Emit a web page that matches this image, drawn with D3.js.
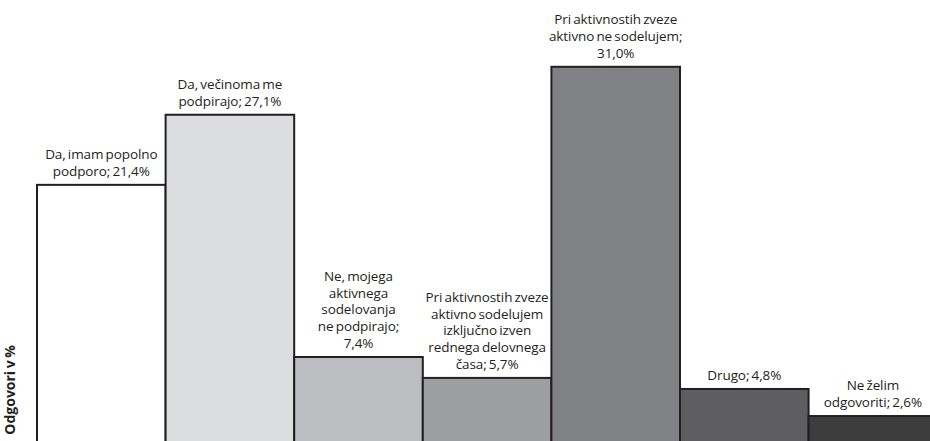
<!DOCTYPE html>
<html>
<head>
<meta charset="utf-8">
<script src="https://cdn.jsdelivr.net/npm/d3@7"></script>
<style>
  body, html { margin: 0; padding: 0; background: #fff; }
  svg { display: block; }
  .lbl { font-family: "Open Sans", sans-serif; font-size: 13.5px; fill: #231f20; text-anchor: middle; word-spacing: -1.2px; letter-spacing: -0.1px; }
  .ytitle { font-family: "Open Sans", sans-serif; font-size: 14px; font-weight: bold; fill: #231f20; word-spacing: -1px; }
</style>
</head>
<body>
<div id="chart"></div>
<script>
  // answers and shares (%)
  var categories = [
    "Da, imam popolno podporo",
    "Da, večinoma me podpirajo",
    "Ne, mojega aktivnega sodelovanja ne podpirajo",
    "Pri aktivnostih zveze aktivno sodelujem izključno izven rednega delovnega časa",
    "Pri aktivnostih zveze aktivno ne sodelujem",
    "Drugo",
    "Ne želim odgovoriti"
  ];
  var values = [21.4, 27.1, 7.4, 5.7, 31.0, 4.8, 2.6];
  var valueLabels = ["21,4%", "27,1%", "7,4%", "5,7%", "31,0%", "4,8%", "2,6%"];
  // how each label wraps in the original
  var labelLines = [
    ["Da, imam popolno", "podporo; 21,4%"],
    ["Da, večinoma me", "podpirajo; 27,1%"],
    ["Ne, mojega", "aktivnega", "sodelovanja", "ne podpirajo;", "7,4%"],
    ["Pri aktivnostih zveze", "aktivno sodelujem", "izključno izven", "rednega delovnega", "časa; 5,7%"],
    ["Pri aktivnostih zveze", "aktivno ne sodelujem;", "31,0%"],
    ["Drugo; 4,8%"],
    ["Ne želim", "odgovoriti; 2,6%"]
  ];
  var fills = ["#ffffff", "#dcdddf", "#bcbdc0", "#9d9ea1", "#808184", "#5e5e60", "#3d3d3e"];
  var yTitle = "Odgovori v %";

  var width = 930, height = 441;
  var svg = d3.select("#chart").append("svg")
    .attr("width", width)
    .attr("height", height);

  // plot runs past the bottom/right edge, like the cropped original
  var x = d3.scaleBand()
    .domain(d3.range(categories.length))
    .range([37, 37 + 7 * 128.6])
    .padding(0);

  var y = d3.scaleLinear()
    .domain([0, 31])
    .range([448, 66.8]);

  svg.append("g").selectAll("rect")
    .data(values)
    .enter()
    .append("rect")
      .attr("x", (d, i) => x(i))
      .attr("y", d => y(d))
      .attr("width", x.bandwidth())
      .attr("height", d => y(0) - y(d) + 10)
      .attr("fill", (d, i) => fills[i])
      .attr("stroke", "#231f20")
      .attr("stroke-width", 2);

  var lineH = 16.8;
  var labels = svg.append("g").selectAll("text")
    .data(labelLines)
    .enter()
    .append("text")
      .attr("class", "lbl")
      .attr("x", (d, i) => x(i) + x.bandwidth() / 2)
      .attr("y", (d, i) => y(values[i]) - 9 - (d.length - 1) * lineH);

  labels.selectAll("tspan")
    .data(d => d)
    .enter()
    .append("tspan")
      .attr("x", function() { return d3.select(this.parentNode).attr("x"); })
      .attr("dy", (d, j) => j === 0 ? 0 : lineH)
      .text(d => d);

  svg.append("text")
    .attr("class", "ytitle")
    .attr("transform", "translate(15,345) rotate(-90)")
    .attr("text-anchor", "end")
    .text(yTitle);
</script>
</body>
</html>
